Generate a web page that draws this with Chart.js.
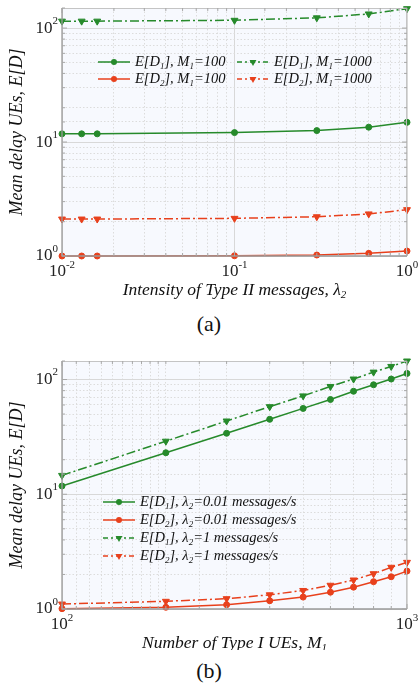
<!DOCTYPE html>
<html>
<head>
<meta charset="utf-8">
<script src="https://cdn.jsdelivr.net/npm/chart.js@4.4.0/dist/chart.umd.min.js"></script>
<style>
  body { margin: 0; background: #fff; width: 418px; height: 688px; position: relative; overflow: hidden; }
  .box { position: absolute; left: 0; width: 418px; }
  .cap { position: absolute; left: 0; width: 418px; text-align: center; font: 22px "Liberation Serif", serif; color: #111; line-height: 26px; }
</style>
</head>
<body>
<div class="box" style="top:0"><canvas id="chartA" width="418" height="300"></canvas></div>
<div class="cap" style="top:311px">(a)</div>
<div class="box" style="top:340px"><canvas id="chartB" width="418" height="310"></canvas></div>
<div class="cap" style="top:658px">(b)</div>
<script>
// (a) delay vs intensity of Type II messages
var lambda2 = [0.01, 0.013, 0.016, 0.1, 0.3, 0.6, 1];
var d1M100  = [11.8, 11.8, 11.8, 12.1, 12.6, 13.5, 14.9];
var d2M100  = [1.0, 1.0, 1.0, 1.005, 1.02, 1.055, 1.105];
var d1M1000 = [115, 115, 115, 117, 123, 133, 148];
var d2M1000 = [2.11, 2.11, 2.11, 2.14, 2.21, 2.34, 2.55];

// (b) delay vs number of Type I UEs
var m1     = [100, 200, 300, 400, 500, 600, 700, 800, 900, 1000];
var d1Low  = [11.8, 23, 34, 45, 56, 67, 79, 90, 101, 113];
var d2Low  = [1.006, 1.035, 1.09, 1.18, 1.27, 1.40, 1.55, 1.73, 1.91, 2.14];
var d1High = [14.6, 29, 43.5, 58, 72, 87, 101, 116, 130, 145];
var d2High = [1.105, 1.167, 1.23, 1.33, 1.45, 1.61, 1.79, 2.03, 2.31, 2.55];

var GREEN = '#268a2b';
var RED = '#e8401c';
var SERIF = '"Liberation Serif", "Times New Roman", serif';
var DASHDOT = [9, 3, 2, 3];

function pairs(xs, ys) {
  return xs.map(function (x, i) { return { x: x, y: ys[i] }; });
}
function isPow10(v) {
  var l = Math.log10(v);
  return Math.abs(l - Math.round(l)) < 1e-6;
}

function series(label, xs, ys, color, dashed) {
  return {
    label: label,
    data: pairs(xs, ys),
    borderColor: color,
    backgroundColor: color,
    pointBorderColor: color,
    pointBackgroundColor: color,
    borderWidth: 1.5,
    borderDash: dashed ? DASHDOT : [],
    pointStyle: dashed ? 'triangle' : 'circle',
    pointRotation: dashed ? 180 : 0,
    pointRadius: dashed ? 4 : 3,
    pointBorderWidth: 1,
    tension: 0,
    fill: false,
    clip: false
  };
}

// text with "_x" subscripts
function richParts(text) {
  var parts = [];
  for (var i = 0; i < text.length; i++) {
    if (text[i] === '_' && i + 1 < text.length) {
      parts.push({ t: text[i + 1], sub: true });
      i++;
    } else if (parts.length && !parts[parts.length - 1].sub) {
      parts[parts.length - 1].t += text[i];
    } else {
      parts.push({ t: text[i], sub: false });
    }
  }
  return parts;
}
function drawRich(ctx, text, x, y, size, align) {
  var parts = richParts(text);
  var big = 'italic ' + size + 'px ' + SERIF;
  var small = 'italic ' + Math.round(size * 0.65) + 'px ' + SERIF;
  var w = 0;
  parts.forEach(function (p) {
    ctx.font = p.sub ? small : big;
    p.w = ctx.measureText(p.t).width;
    w += p.w;
  });
  var cx = align === 'center' ? x - w / 2 : x;
  ctx.textBaseline = 'middle';
  ctx.textAlign = 'left';
  parts.forEach(function (p) {
    ctx.font = p.sub ? small : big;
    ctx.fillText(p.t, cx, p.sub ? y + size * 0.3 : y);
    cx += p.w;
  });
}
function drawPow(ctx, x, y, exp, align) {
  var base = '17px ' + SERIF, sup = '11px ' + SERIF;
  ctx.font = base;
  var wb = ctx.measureText('10').width;
  ctx.font = sup;
  var we = ctx.measureText(String(exp)).width;
  var sx = align === 'right' ? x - wb - we : x - (wb + we) / 2;
  ctx.fillStyle = '#222';
  ctx.textBaseline = 'middle';
  ctx.textAlign = 'left';
  ctx.font = base;
  ctx.fillText('10', sx, y);
  ctx.font = sup;
  ctx.fillText(String(exp), sx + wb, y - 7);
}
function drawMarker(ctx, x, y, color, dashed) {
  ctx.fillStyle = color;
  ctx.beginPath();
  if (dashed) {
    var r = 4;
    for (var k = 0; k < 3; k++) {
      var a = Math.PI + k * 2 * Math.PI / 3;
      var px = x + Math.sin(a) * r, py = y - Math.cos(a) * r;
      if (k === 0) ctx.moveTo(px, py); else ctx.lineTo(px, py);
    }
    ctx.closePath();
  } else {
    ctx.arc(x, y, 3, 0, Math.PI * 2);
  }
  ctx.fill();
}

var decor = {
  id: 'decor',
  beforeDraw: function (chart) {
    var a = chart.chartArea, ctx = chart.ctx;
    ctx.save();
    ctx.fillStyle = '#f7f9fe';
    ctx.fillRect(a.left, a.top, a.right - a.left, a.bottom - a.top);
    ctx.restore();
  },
  afterDatasetsDraw: function (chart) {
    var o = chart.options.plugins.decor;
    var a = chart.chartArea, ctx = chart.ctx;
    var xs = chart.scales.x, ys = chart.scales.y;
    ctx.save();
    // frame
    ctx.strokeStyle = '#c4c4c4';
    ctx.lineWidth = 1;
    ctx.beginPath();
    ctx.moveTo(a.left, a.top + 0.5); ctx.lineTo(a.right, a.top + 0.5);
    ctx.moveTo(a.right - 0.5, a.top); ctx.lineTo(a.right - 0.5, a.bottom);
    ctx.stroke();
    ctx.strokeStyle = '#9a9a9a';
    ctx.lineWidth = 1.3;
    ctx.beginPath();
    ctx.moveTo(a.left, a.top); ctx.lineTo(a.left, a.bottom);
    ctx.lineTo(a.right, a.bottom);
    ctx.stroke();
    // inward tick marks
    ctx.strokeStyle = '#a8a8a8';
    ctx.lineWidth = 1;
    ctx.beginPath();
    ys.ticks.forEach(function (t) {
      var py = ys.getPixelForValue(t.value), len = isPow10(t.value) ? 5 : 3;
      ctx.moveTo(a.left, py); ctx.lineTo(a.left + len, py);
      ctx.moveTo(a.right, py); ctx.lineTo(a.right - len, py);
    });
    xs.ticks.forEach(function (t) {
      var px = xs.getPixelForValue(t.value), len = isPow10(t.value) ? 5 : 3;
      ctx.moveTo(px, a.bottom); ctx.lineTo(px, a.bottom - len);
      ctx.moveTo(px, a.top); ctx.lineTo(px, a.top + len);
    });
    ctx.stroke();
    // tick labels
    ys.ticks.forEach(function (t) {
      if (isPow10(t.value)) drawPow(ctx, a.left - 4, ys.getPixelForValue(t.value), Math.round(Math.log10(t.value)), 'right');
    });
    xs.ticks.forEach(function (t) {
      if (isPow10(t.value)) drawPow(ctx, xs.getPixelForValue(t.value), a.bottom + 16, Math.round(Math.log10(t.value)), 'center');
    });
    // axis titles
    ctx.fillStyle = '#111';
    drawRich(ctx, o.xTitle, (a.left + a.right) / 2, a.bottom + 34, 17.5, 'center');
    ctx.save();
    ctx.translate(17, (a.top + a.bottom) / 2);
    ctx.rotate(-Math.PI / 2);
    drawRich(ctx, o.yTitle, 0, 0, 18, 'center');
    ctx.restore();
    // legend
    var L = o.legend;
    chart.data.datasets.forEach(function (ds, i) {
      var col = Math.floor(i / L.rows), row = i % L.rows;
      var lx = L.x + col * L.colW, ly = L.y + row * L.rowH;
      var dashed = ds.borderDash.length > 0;
      ctx.strokeStyle = ds.borderColor;
      ctx.lineWidth = 1.5;
      ctx.setLineDash(dashed ? [5, 3, 2, 3] : []);
      ctx.beginPath();
      ctx.moveTo(lx, ly); ctx.lineTo(lx + 32, ly);
      ctx.stroke();
      ctx.setLineDash([]);
      drawMarker(ctx, lx + 16, ly, ds.borderColor, dashed);
      ctx.fillStyle = '#111';
      drawRich(ctx, ds.label, lx + 37, ly, 14.5, 'left');
    });
    ctx.restore();
  }
};

function axisOpts(min, max, size, isX) {
  return {
    type: 'logarithmic',
    min: min,
    max: max,
    ticks: { display: false, autoSkip: false },
    grid: {
      drawTicks: false,
      lineWidth: 1,
      color: function (c) { return c.tick && isPow10(c.tick.value) ? '#d8d8d8' : '#dcdcdc'; }
    },
    border: {
      display: false,
      dash: function (c) { return c.tick && isPow10(c.tick.value) ? [] : [1.5, 2]; }
    },
    afterFit: function (scale) {
      if (isX) scale.height = size; else scale.width = size;
    }
  };
}

function makeChart(id, datasets, xr, yr, padTop, xH, extra) {
  return new Chart(document.getElementById(id), {
    type: 'line',
    data: { datasets: datasets },
    options: {
      responsive: false,
      animation: false,
      devicePixelRatio: 1,
      layout: { padding: { top: padTop, right: 11, left: 0, bottom: 0 } },
      scales: {
        x: axisOpts(xr[0], xr[1], xH, true),
        y: axisOpts(yr[0], yr[1], 62, false)
      },
      plugins: {
        legend: { display: false },
        tooltip: { enabled: false },
        decor: extra
      }
    },
    plugins: [decor]
  });
}

makeChart('chartA', [
  series('E[D_1], M_1=100', lambda2, d1M100, GREEN, false),
  series('E[D_2], M_1=100', lambda2, d2M100, RED, false),
  series('E[D_1], M_1=1000', lambda2, d1M1000, GREEN, true),
  series('E[D_2], M_1=1000', lambda2, d2M1000, RED, true)
], [0.01, 1], [1, 150], 8, 44, {
  xTitle: 'Intensity of Type II messages, \u03bb_2',
  yTitle: 'Mean delay UEs, E[D]',
  legend: { x: 98, y: 62, rows: 2, rowH: 17, colW: 139 }
});

makeChart('chartB', [
  series('E[D_1], \u03bb_2=0.01 messages/s', m1, d1Low, GREEN, false),
  series('E[D_2], \u03bb_2=0.01 messages/s', m1, d2Low, RED, false),
  series('E[D_1], \u03bb_2=1 messages/s', m1, d1High, GREEN, true),
  series('E[D_2], \u03bb_2=1 messages/s', m1, d2High, RED, true)
], [100, 1000], [1, 145], 21, 41, {
  xTitle: 'Number of Type I UEs, M_1',
  yTitle: 'Mean delay UEs, E[D]',
  legend: { x: 103, y: 162, rows: 4, rowH: 18, colW: 0 }
});
</script>
</body>
</html>
